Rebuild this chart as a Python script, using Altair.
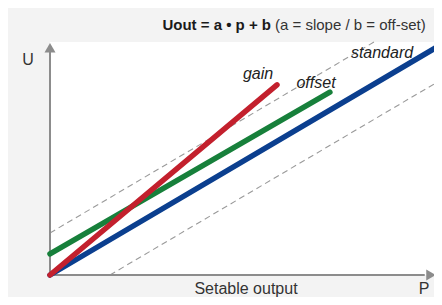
import altair as alt
import pandas as pd

# --- data -------------------------------------------------------------
series = ["standard", "offset", "gain"]
p_start = [0.0, 0.0, 0.0]
u_start = [0.0, 9.1, 0.0]
p_end = [100.0, 71.4, 57.9]
u_end = [100.0, 79.2, 82.3]
series_colors = ["#0b3f8f", "#17803b", "#c3202d"]

guides = ["upper", "lower"]
g_p_start = [0.0, 15.3]
g_u_start = [18.2, 0.0]
g_p_end = [82.7, 100.0]
g_u_end = [100.9, 84.7]

title_bold = "Uout = a \u2022 p + b"
title_rest = "(a = slope / b = off-set)"
axis_y_label = "U"
axis_x_label = "Setable output"
axis_x_symbol = "P"

# scale extents (data units)
P_DOM = [-10.714, 97.959]
U_DOM = [-9.524, 115.584]
FRAME_TOP = 100.9
Y_AXIS_END = 97.4
Y_ARROW = 98.4
X_AXIS_END = 95.6
X_ARROW = 97.2

FONT = "Liberation Sans"
GRAY = "#8c8c8c"

rows = []
for s, a, b, c, d in zip(series, p_start, u_start, p_end, u_end):
    rows.append({"series": s, "P": a, "U": b})
    rows.append({"series": s, "P": c, "U": d})
lines_df = pd.DataFrame(rows)

grows = []
for g, a, b, c, d in zip(guides, g_p_start, g_u_start, g_p_end, g_u_end):
    grows.append({"guide": g, "P": a, "U": b})
    grows.append({"guide": g, "P": c, "U": d})
guides_df = pd.DataFrame(grows)

xs = alt.Scale(domain=P_DOM, nice=False, zero=False)
ys = alt.Scale(domain=U_DOM, nice=False, zero=False)

frame = alt.Chart(pd.DataFrame({"p0": [0.0], "p1": [P_DOM[1]], "u0": [0.0], "u1": [FRAME_TOP]})).mark_rect(
    color="white"
).encode(
    x=alt.X("p0:Q", scale=xs, axis=None),
    x2="p1:Q",
    y=alt.Y("u0:Q", scale=ys, axis=None),
    y2="u1:Q",
)

guide_layer = alt.Chart(guides_df).mark_line(
    color="#9a9a9a", strokeWidth=1.1, strokeDash=[6, 4], clip=True
).encode(
    x=alt.X("P:Q", scale=xs, axis=None),
    y=alt.Y("U:Q", scale=ys, axis=None),
    detail="guide:N",
)

yaxis = alt.Chart(pd.DataFrame({"p": [0.0], "u0": [0.0], "u1": [Y_AXIS_END]})).mark_rule(
    color=GRAY, strokeWidth=2
).encode(
    x=alt.X("p:Q", scale=xs, axis=None),
    y=alt.Y("u0:Q", scale=ys, axis=None),
    y2="u1:Q",
)
xaxis = alt.Chart(pd.DataFrame({"u": [0.0], "p0": [0.0], "p1": [X_AXIS_END]})).mark_rule(
    color=GRAY, strokeWidth=2
).encode(
    y=alt.Y("u:Q", scale=ys, axis=None),
    x=alt.X("p0:Q", scale=xs, axis=None),
    x2="p1:Q",
)
arrow_y = alt.Chart(pd.DataFrame({"p": [0.0], "u": [Y_ARROW]})).mark_point(
    shape="triangle-up", filled=True, size=121, color=GRAY, opacity=1
).encode(x=alt.X("p:Q", scale=xs, axis=None), y=alt.Y("u:Q", scale=ys, axis=None))
arrow_x = alt.Chart(pd.DataFrame({"p": [X_ARROW], "u": [0.0]})).mark_point(
    shape="triangle-right", filled=True, size=121, color=GRAY, opacity=1
).encode(x=alt.X("p:Q", scale=xs, axis=None), y=alt.Y("u:Q", scale=ys, axis=None))

color_scale = alt.Scale(domain=series, range=series_colors)
line_layers = []
for s in series:
    line_layers.append(
        alt.Chart(lines_df).transform_filter(alt.datum.series == s).mark_line(
            strokeWidth=5.5, strokeCap="round", clip=True
        ).encode(
            x=alt.X("P:Q", scale=xs, axis=None),
            y=alt.Y("U:Q", scale=ys, axis=None),
            color=alt.Color("series:N", scale=color_scale, legend=None),
        )
    )


def label(text, x, y, size=16, align="center", weight="normal", style="normal", color="#333333"):
    return alt.Chart(pd.DataFrame({"t": [text]})).mark_text(
        font=FONT, fontSize=size, align=align, baseline="alphabetic",
        fontWeight=weight, fontStyle=style, color=color,
    ).encode(text="t:N", x=alt.value(x), y=alt.value(y))


texts = [
    label(title_bold, 263, 22, size=15, align="right", weight="bold", color="#1a1a1a"),
    label(title_rest, 267, 22, size=15, align="left", color="#333333"),
    label(axis_y_label, 20, 57, size=16),
    label(axis_x_label, 238, 286, size=16),
    label(axis_x_symbol, 416, 286, size=16),
    label("gain", 250, 71, style="italic", color="#222222"),
    label("offset", 308, 80, style="italic", color="#222222"),
    label("standard", 374, 50, style="italic", color="#222222"),
]

chart = alt.layer(
    frame, guide_layer, yaxis, xaxis, arrow_y, arrow_x, *line_layers, *texts
).properties(
    width=426, height=289, background="#f3f3f3",
    padding={"left": 0, "right": 0, "top": 0, "bottom": 0},
    autosize=alt.AutoSizeParams(type="none"),
).configure_view(stroke=None)

chart.save("out.html", embed_options={"renderer": "svg", "actions": False})
